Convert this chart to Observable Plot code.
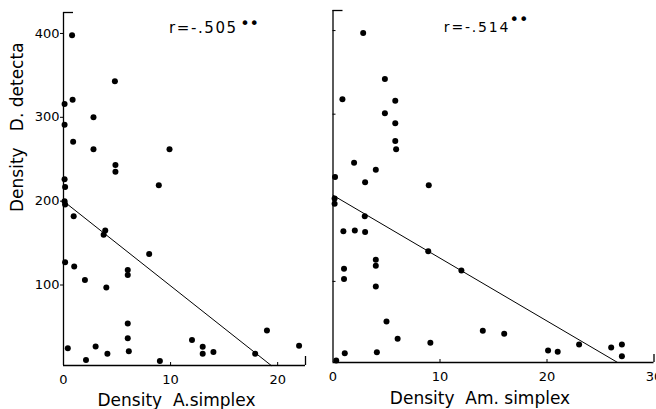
<!DOCTYPE html>
<html><head><meta charset="utf-8">
<script src="https://cdn.jsdelivr.net/npm/d3@7"></script>
<script src="https://cdn.jsdelivr.net/npm/@observablehq/plot@0.6"></script>
<style>
html,body{margin:0;padding:0;background:#fff;}
#wrap{position:relative;width:656px;height:409px;overflow:hidden;background:#fff;}
#left,#right{position:absolute;top:0;}
#left{left:0;} #right{left:320px;}
</style></head><body>
<div id="wrap"><div id="left"></div><div id="right"></div></div>
<script>
// ---- Left panel: Density A. simplex vs Density D. detecta ----
const leftX = [0.8, 4.8, 0.85, 0.1, 2.8, 0.1, 0.9, 2.8, 9.9, 4.85, 4.85, 8.9, 0.1, 0.15, 0.1, 0.15, 0.95, 3.9, 3.75, 8.0, 0.15, 1.0, 6.0, 6.0, 2.0, 4.0, 6.0, 6.0, 0.4, 3.0, 4.1, 6.1, 2.1, 9.0, 12.0, 13.0, 13.0, 14.0, 17.9, 19.0, 22.0];
const leftY = [398, 343, 321, 316, 300, 291, 271, 262, 262, 243, 235, 219, 226, 217, 200, 196, 182, 165, 160, 137, 127, 122, 118, 112, 106, 97, 54, 36.5, 24.6, 26.6, 18, 21, 10.7, 9.5, 34.5, 26.5, 18, 20, 18, 45.6, 27.7];
const leftFitX = [0, 19.4];
const leftFitY = [200, 4];
const leftR = "r=-.505";

// ---- Right panel: Density Am. simplex vs Density D. detecta ----
const rightX = [2.82, 4.85, 0.88, 5.82, 4.85, 5.82, 5.82, 5.9, 1.97, 4.0, 0.19, 3.0, 8.95, 0.15, 0.15, 2.97, 0.97, 2.04, 3.0, 8.9, 4.0, 4.0, 1.03, 1.03, 4.0, 5.0, 6.04, 9.1, 1.1, 4.1, 0.3, 12.0, 14.0, 16.0, 20.1, 21.0, 23.0, 26.0, 27.0, 27.0];
const rightY = [397, 342, 318, 316, 301, 289, 268, 258, 242, 233.5, 225, 218.5, 215, 199, 193, 178, 160, 161, 159, 136, 126, 118.6, 115, 103, 94, 52, 31.3, 26.5, 14, 15.3, 5.4, 113, 41, 37.3, 17.4, 16, 24.5, 21, 24.5, 10.5];
const rightFitX = [0, 26.6];
const rightFitY = [203, 3];
const rightR = "r=-.514";

const yTicks = [100, 200, 300, 400];
const leftXTicks = [0, 10, 20];
const rightXTicks = [0, 10, 20, 30];
const stars = "\u2022\u2022";
const xLabelLeft = "Density\u00a0\u00a0A.simplex";
const xLabelRight = "Density\u00a0\u00a0Am.\u00a0simplex";
const yLabel = "Density\u00a0\u00a0\u00a0D.\u00a0detecta";

const FONT = "'DejaVu Sans', sans-serif";
const toPts = (xs, ys) => xs.map((x, i) => ({x, y: ys[i]}));

const LX = [0, 22.6], LY = [4, 425];
const RX = [0, 30], RY = [3, 424];

const leftPlot = Plot.plot({
  width: 320, height: 409,
  marginLeft: 63, marginRight: 15, marginTop: 12, marginBottom: 44,
  style: {fontFamily: FONT, fontSize: "13px", background: "transparent", overflow: "visible", color: "#000"},
  x: {domain: LX, ticks: leftXTicks, tickSize: 0, tickPadding: 9, label: null},
  y: {domain: LY, ticks: yTicks, tickSize: 3, tickPadding: 1, label: null},
  marks: [
    Plot.ruleX([LX[0]], {stroke: "#000", strokeWidth: 1.3}),
    Plot.ruleY([LY[0]], {stroke: "#000", strokeWidth: 1.3}),
    Plot.ruleY([LY[1]], {x1: LX[0], x2: LX[0], insetRight: -10, stroke: "#000", strokeWidth: 1.3}),
    Plot.ruleX(leftXTicks.slice(1), {y1: LY[0], y2: LY[0], insetTop: -3, stroke: "#000"}),
    Plot.ruleX([LX[1]], {y1: LY[0], y2: LY[0], insetTop: -9, stroke: "#000", strokeWidth: 1.3}),
    Plot.line(toPts(leftFitX, leftFitY), {x: "x", y: "y", stroke: "#000", strokeWidth: 1}),
    Plot.dot(toPts(leftX, leftY), {x: "x", y: "y", r: 3, fill: "#000", stroke: null}),
    Plot.text([{x: 9.85, y: 406, t: leftR}], {x: "x", y: "y", text: "t", textAnchor: "start", lineAnchor: "middle", fontSize: 15}),
    Plot.text([{x: 16.5, y: 412, t: stars}], {x: "x", y: "y", text: "t", textAnchor: "start", lineAnchor: "middle", fontSize: 16}),
    Plot.text([xLabelLeft], {frameAnchor: "bottom", dy: 35, dx: -8, lineAnchor: "middle", fontSize: 17}),
    Plot.text([yLabel], {frameAnchor: "left", rotate: -90, dx: -46, dy: 23, lineAnchor: "middle", fontSize: 17})
  ]
});
document.getElementById("left").appendChild(leftPlot);

const rightPlot = Plot.plot({
  width: 336, height: 409,
  marginLeft: 12.5, marginRight: 2.5, marginTop: 10, marginBottom: 47,
  style: {fontFamily: FONT, fontSize: "13px", background: "transparent", overflow: "visible", color: "#000"},
  x: {domain: RX, ticks: rightXTicks, tickSize: 0, tickPadding: 9, label: null},
  y: {domain: RY, axis: null},
  marks: [
    Plot.ruleX([RX[0]], {stroke: "#000", strokeWidth: 1.3}),
    Plot.ruleY([RY[0]], {stroke: "#000", strokeWidth: 1.3}),
    Plot.ruleY([RY[1]], {x1: RX[0], x2: RX[0], insetRight: -10, stroke: "#000", strokeWidth: 1.3}),
    Plot.ruleY(yTicks, {x1: RX[0], x2: RX[0], insetRight: -3, stroke: "#000"}),
    Plot.ruleX(rightXTicks.slice(1, -1), {y1: RY[0], y2: RY[0], insetTop: -3, stroke: "#000"}),
    Plot.ruleX([RX[1]], {y1: RY[0], y2: RY[0], insetTop: -8, stroke: "#000", strokeWidth: 1.3}),
    Plot.line(toPts(rightFitX, rightFitY), {x: "x", y: "y", stroke: "#000", strokeWidth: 1}),
    Plot.dot(toPts(rightX, rightY), {x: "x", y: "y", r: 3, fill: "#000", stroke: null}),
    Plot.text([{x: 10.36, y: 403.7, t: rightR}], {x: "x", y: "y", text: "t", textAnchor: "start", lineAnchor: "middle", fontSize: 14}),
    Plot.text([{x: 16.5, y: 413, t: stars}], {x: "x", y: "y", text: "t", textAnchor: "start", lineAnchor: "middle", fontSize: 16}),
    Plot.text([xLabelRight], {frameAnchor: "bottom", dy: 36, dx: -13.5, lineAnchor: "middle", fontSize: 17})
  ]
});
document.getElementById("right").appendChild(rightPlot);

// widen the correlation annotations like the original lettering
d3.select(leftPlot).selectAll("text").filter(function() { return this.textContent === leftR; }).attr("letter-spacing", "1.6");
d3.select(rightPlot).selectAll("text").filter(function() { return this.textContent === rightR; }).attr("letter-spacing", "1.8");
</script>
</body></html>
